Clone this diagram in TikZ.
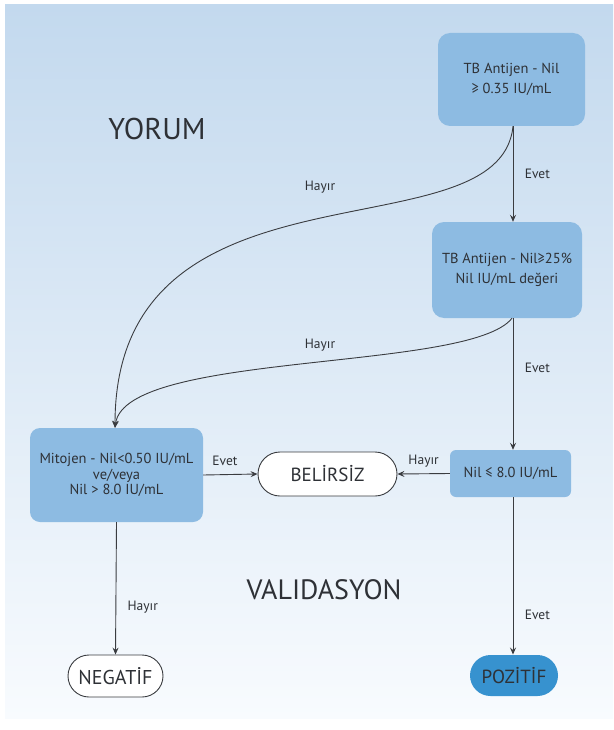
\documentclass[tikz,border=0pt]{standalone}
\usepackage{fontspec}
\setmainfont{PT Sans}
\usetikzlibrary{arrows.meta,shapes.misc}
\definecolor{bgtop}{HTML}{C3D9EE}
\definecolor{bgbot}{HTML}{F8FBFE}
\definecolor{boxfill}{HTML}{8DBBE2}
\definecolor{posfill}{HTML}{3792CF}
\definecolor{txt}{HTML}{2E3136}
\definecolor{lin}{HTML}{3A3C40}
\tikzset{
  x=1pt,y=-1pt,
  every node/.style={text=txt},
  qbox/.style={fill=boxfill,rounded corners=12pt,align=center,font=\fontsize{14.5}{17}\selectfont,inner sep=0pt},
  term/.style={rounded rectangle,draw=lin,line width=0.9pt,fill=white,font=\fontsize{19}{21}\selectfont,inner sep=0pt},
  conn/.style={draw=lin,line width=0.9pt,-{Stealth[length=7pt,width=6pt,inset=2.5pt]}},
  lbl/.style={font=\fontsize{13.5}{15}\selectfont},
  big/.style={font=\fontsize{30}{32}\selectfont}
}
\begin{document}
\begin{tikzpicture}
\useasboundingbox (0,0) rectangle (613,730);
\fill[white] (0,0) rectangle (613,730);
\shade[top color=bgtop,bottom color=bgbot] (5,5) rectangle (613,718);

\node[qbox,minimum width=147pt,minimum height=93pt] (b1) at (511.5,79.5) {TB Antijen - Nil\\[3pt]≥ 0.35 IU/mL};
\node[qbox,minimum width=150pt,minimum height=96pt] (b2) at (507,270) {TB Antijen - Nil≥25\%\\[3pt]Nil IU/mL değeri};
\node[qbox,minimum width=121pt,minimum height=47pt,rounded corners=6pt] (b3) at (510.5,473.5) {Nil ≤ 8.0 IU/mL};
\node[qbox,minimum width=173pt,minimum height=94pt,rounded corners=10pt,font=\fontsize{14.5}{15.5}\selectfont] (b4) at (116.5,475) {Mitojen - Nil<0.50 IU/mL\\ve/veya\\Nil > 8.0 IU/mL};

\node[term,minimum width=139pt,minimum height=44pt] (bel) at (327.5,474) {BELİRSİZ};
\node[term,minimum width=95pt,minimum height=42pt,font=\fontsize{20}{22}\selectfont] (neg) at (115.5,676) {NEGATİF};
\node[term,draw=none,fill=posfill,minimum width=88pt,minimum height=41pt] (pos) at (514,675.5) {POZİTİF};

\node[big] (yorum) at (157,129) {YORUM};
\node[big,font=\fontsize{28}{30}\selectfont] (valid) at (324,590) {VALIDASYON};

\draw[conn] (b1.south -| 513,0) -- node[lbl,right=8pt] {Evet} (b2.north -| 513,0);
\draw[conn] (b2.south -| 513,0) -- node[lbl,right=8pt,pos=0.38] {Evet} (b3.north -| 513,0);
\draw[conn] (b3.south -| 513,0) -- node[lbl,right=8pt,pos=0.75] {Evet} (pos.north -| 513,0);
\draw[conn] (b3.west) -- node[lbl,above=3pt] {Hayır} (bel.east);
\draw[conn] (b4.east) -- node[lbl,above=5pt,pos=0.4] {Evet} (bel.west);
\draw[conn] (b4.south) -- node[lbl,right=8pt,pos=0.64] {Hayır} (neg.north);

\draw[conn] (b1.south -| 513,0) .. controls +(-13,133) and +(0,-282) .. (b4.north -| 115,0);
\draw[conn] (b2.south -| 512,0) .. controls +(-42,54) and +(10,-77) .. (b4.north -| 115,0);
\node[lbl] (h1) at (320,187) {Hayır};
\node[lbl] (h2) at (320,345) {Hayır};
\end{tikzpicture}
\end{document}
